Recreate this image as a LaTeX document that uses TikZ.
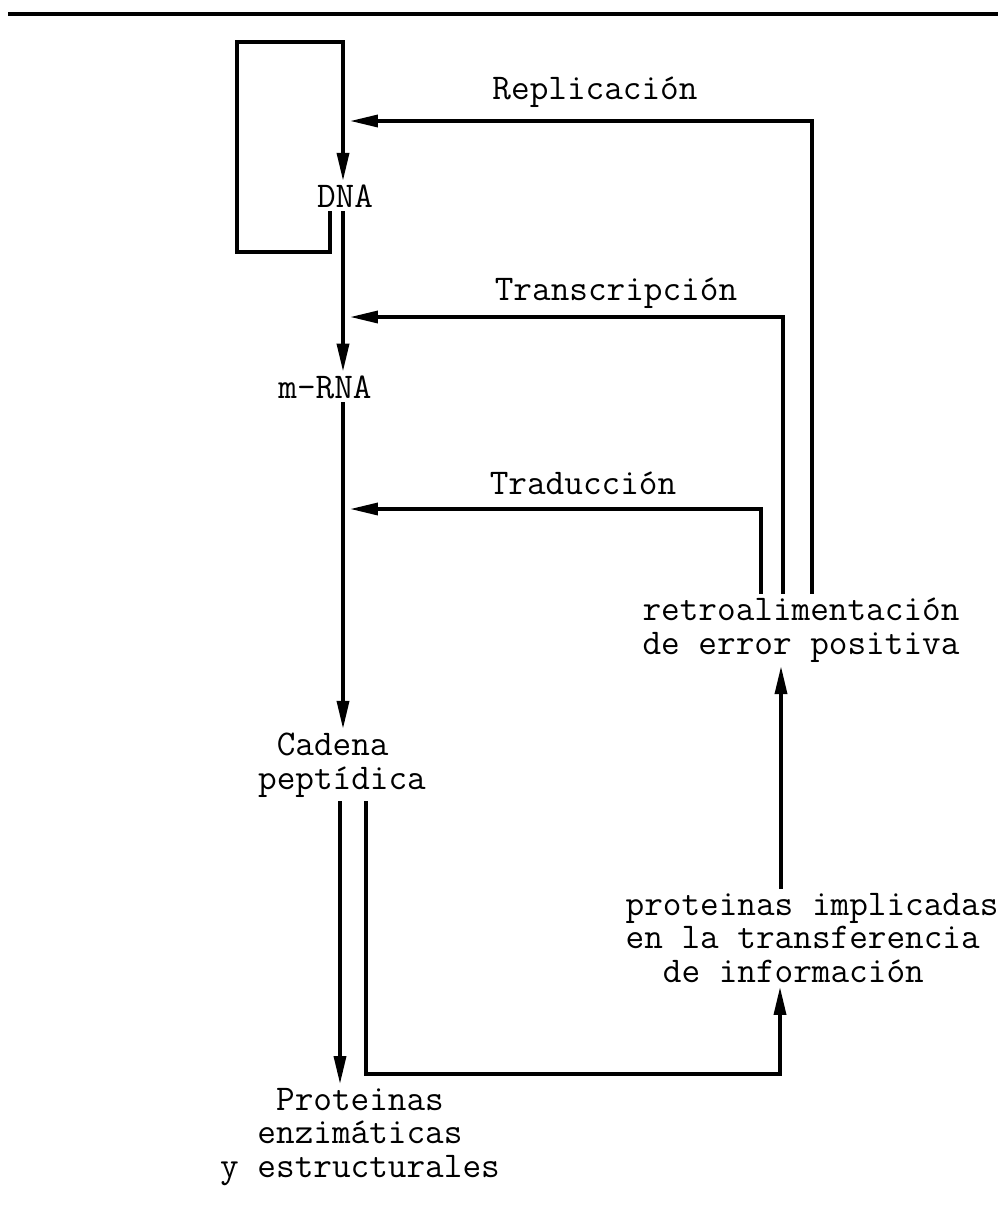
\documentclass[tikz,border=0pt]{standalone}
\usepackage{fontspec}
\usepackage{tikz}
\usetikzlibrary{arrows.meta}

\begin{document}
\begin{tikzpicture}[x=0.02cm, y=-0.02cm,
	every node/.style={font=\fontsize{20.6}{19.3}\selectfont\ttfamily, inner sep=2pt},
	flow/.style={line width=2pt, -{Triangle[length=5.6mm, width=2.4mm]}},
	wire/.style={line width=2.2pt}]
		\useasboundingbox (0,0) rectangle (1006,1231);
		\coordinate (spine) at (343,0);
		\coordinate (tip) at (350,0);
		\coordinate (loopr) at (330,0);
		\coordinate (loopbot) at (237,252);
		\coordinate (looptop) at (343,42);
		\coordinate (rep) at (812,121);
		\coordinate (trans) at (783,317);
		\coordinate (trad) at (761,509);
		\coordinate (down) at (340,0);
		\coordinate (out) at (366,1074);
		\coordinate (link) at (780,1074);
		\coordinate (up) at (781,0);
		\node (dna) at (345,196) {DNA};
		\node (mrna) at (325,387) {m-RNA};
		\node[align=left] (cadena) at (342,765) {~Cadena\\peptídica};
		\node[align=left] (prot) at (360,1137) {~~~Proteinas\\~~enzimáticas\\y estructurales};
		\node[align=left] (info) at (812,938) {proteinas implicadas\\en la transferencia\\~~de información};
		\node[align=center] (retro) at (801,630) {retroalimentación\\de error positiva};
		\node (lrep) at (595,92) {Replicación};
		\node (ltrans) at (616,293) {Transcripción};
		\node (ltrad) at (583,483) {Traducción};
		\draw[wire] (8,14) -- (998,14);
		\draw[flow] (dna.south -| loopr) -- (loopr |- loopbot) -- (loopbot) -- (loopbot |- looptop) -- (looptop) -- (dna.north -| looptop);
		\draw[flow] (dna.south -| spine) -- (mrna.north -| spine);
		\draw[flow] (mrna.south -| spine) -- (cadena.north -| spine);
		\draw[flow] (cadena.south -| down) -- (prot.north -| down);
		\draw[flow] (cadena.south -| out) -- (out) -- (link) -- (info.south -| link);
		\draw[flow] (info.north -| up) -- (retro.south -| up);
		\draw[flow] (retro.north -| rep) -- (rep) -- (rep -| tip);
		\draw[flow] (retro.north -| trans) -- (trans) -- (trans -| tip);
		\draw[flow] (retro.north -| trad) -- (trad) -- (trad -| tip);
	\end{tikzpicture}
\end{document}
